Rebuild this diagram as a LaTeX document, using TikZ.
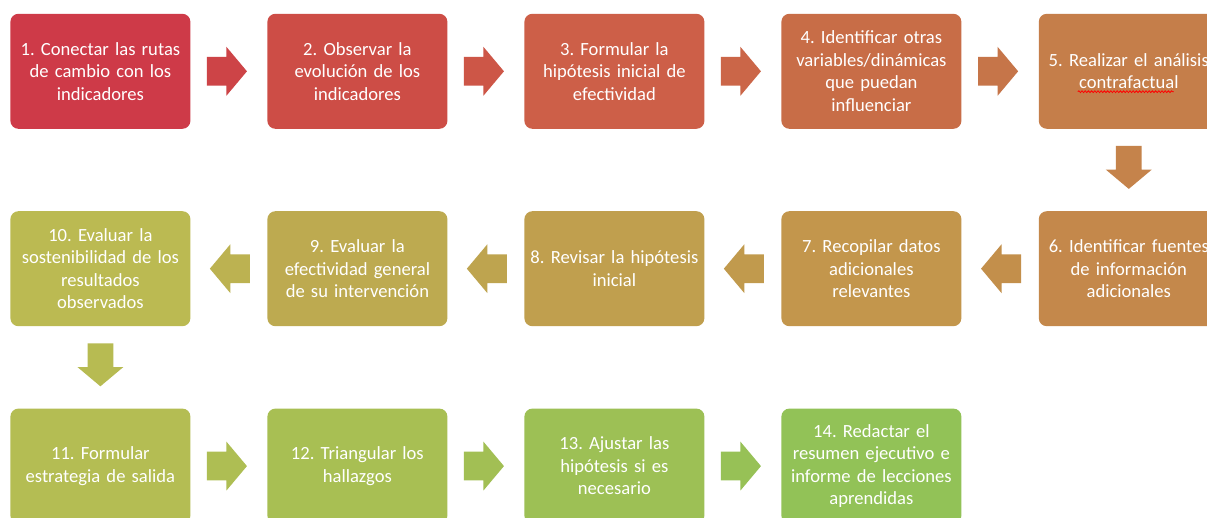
\documentclass[tikz,border=0pt]{standalone}
\usepackage{fontspec}
\setmainfont{Carlito}
\usepackage{tikz}
\usetikzlibrary{calc,matrix,positioning,shapes,decorations.pathmorphing}
\frenchspacing
\definecolor{c1}{HTML}{CE3A48}
\definecolor{c2}{HTML}{CD4D46}
\definecolor{c3}{HTML}{CD5F48}
\definecolor{c4}{HTML}{C86D47}
\definecolor{c5}{HTML}{C57E4A}
\definecolor{c6}{HTML}{C4884B}
\definecolor{c7}{HTML}{C3964C}
\definecolor{c8}{HTML}{C09F4E}
\definecolor{c9}{HTML}{BDAA50}
\definecolor{c10}{HTML}{BBBA52}
\definecolor{c11}{HTML}{B4BD53}
\definecolor{c12}{HTML}{A8BF53}
\definecolor{c13}{HTML}{9DC055}
\definecolor{c14}{HTML}{92C257}
\tikzset{flow matrix/.style={
    column sep=38.5pt, row sep=41pt,
    inner sep=0pt,
    nodes={rounded corners=4pt,
      minimum width=90pt,
      minimum height=57.5pt,
      text width=86pt,
      inner xsep=2pt,
      align=center,
      text=white,
      font=\fontsize{9.3}{11.25}\selectfont
    },
  },
  flow arrow/.style={
    single arrow,
    minimum height=20pt,
    inner xsep=0pt, inner ysep=7pt,
    single arrow head extend=5pt,
    single arrow tip angle=100
  },
  flow right/.style={flow arrow, xshift=-4pt},
  flow left/.style={flow arrow, shape border rotate=180, xshift=3.5pt},
  flow down/.style={flow arrow, shape border rotate=270, yshift=4pt,
    minimum height=21.5pt, inner xsep=6.25pt, inner ysep=0pt}
}

\begin{document}
\begin{tikzpicture}
    \useasboundingbox[fill=white] (0,0) rectangle (603.5pt,-259pt);
    \matrix (m) [flow matrix, anchor=north west] at (5pt,-6.5pt) {
        \node[fill=c1] (s1) {1. Conectar las rutas\\de cambio con los\\indicadores}; &
        \node[fill=c2] (s2) {2. Observar la\\evolución de los\\indicadores}; &
        \node[fill=c3] (s3) {3. Formular la\\hipótesis inicial de\\efectividad}; &
        \node[fill=c4] (s4) {4. Identificar otras\\variables/dinámicas\\que puedan\\influenciar}; &
        \node[fill=c5] (s5) {5. Realizar el análisis\\contrafactual}; \\
        \node[fill=c10] (s10) {10. Evaluar la\\sostenibilidad de los\\resultados\\observados}; &
        \node[fill=c9] (s9) {9. Evaluar la\\efectividad general\\de su intervención}; &
        \node[fill=c8] (s8) {8. Revisar la hipótesis\\inicial}; &
        \node[fill=c7] (s7) {7. Recopilar datos\\adicionales\\relevantes}; &
        \node[fill=c6] (s6) {6. Identificar fuentes\\de información\\adicionales}; \\
        \node[fill=c11] (s11) {11. Formular\\estrategia de salida}; &
        \node[fill=c12] (s12) {12. Triangular los\\hallazgos}; &
        \node[fill=c13] (s13) {13. Ajustar las\\hipótesis si es\\necesario}; &
        \node[fill=c14] (s14) {14. Redactar el\\resumen ejecutivo e\\informe de lecciones\\aprendidas}; & \\
    };
    % arrows between the steps
    \foreach \a/\b/\s in {1/2/right, 2/3/right, 3/4/right, 4/5/right, 5/6/down,
        6/7/left, 7/8/left, 8/9/left, 9/10/left, 10/11/down,
        11/12/right, 12/13/right, 13/14/right}
        \node[flow \s, fill=c\a!50!c\b] (arr\a) at ($(s\a)!0.5!(s\b)$) {};
    % spell check mark
    \draw[red, line width=0.4pt, decorate, decoration={snake, amplitude=0.45pt, segment length=1.6pt}]
        ($(s5.center)+(-25.5pt,-10.2pt)$) -- ++(48pt,0);
\end{tikzpicture}
\end{document}
